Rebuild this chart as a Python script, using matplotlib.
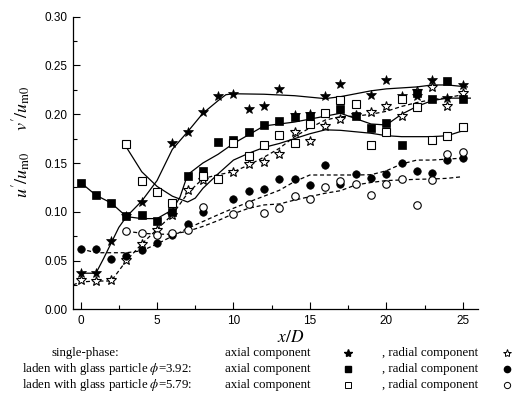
import matplotlib
matplotlib.use("Agg")
import matplotlib.pyplot as plt
from matplotlib.ticker import MultipleLocator

plt.rcParams['font.family'] = ['Liberation Sans', 'DejaVu Sans']
plt.rcParams['mathtext.fontset'] = 'stix'

# ---------------- data ----------------
# single-phase, axial component (filled star)
sp_ax_x = [0, 1, 2, 3, 4, 6, 7, 8, 9, 10, 11, 12, 13, 14, 15, 16, 17, 19, 20, 21, 22, 23, 24, 25]
sp_ax_y = [0.037, 0.037, 0.070, 0.096, 0.110, 0.171, 0.182, 0.202, 0.219, 0.221, 0.205, 0.208,
           0.226, 0.199, 0.200, 0.219, 0.231, 0.220, 0.235, 0.219, 0.219, 0.235, 0.217, 0.230]
# single-phase, radial component (open star)
sp_ra_x = [0, 1, 2, 3, 4, 5, 6, 7, 8, 10, 11, 12, 13, 14, 15, 16, 17, 18, 19, 20, 21, 22, 23, 24, 25]
sp_ra_y = [0.030, 0.029, 0.030, 0.051, 0.067, 0.081, 0.097, 0.122, 0.133, 0.141, 0.149, 0.151, 0.159,
           0.182, 0.173, 0.188, 0.195, 0.199, 0.202, 0.208, 0.198, 0.224, 0.228, 0.208, 0.222]
# phi=3.92, axial (filled square)
g1_ax_x = [0, 1, 2, 3, 4, 5, 6, 7, 8, 9, 10, 11, 12, 13, 14, 15, 17, 18, 19, 20, 21, 22, 23, 24, 25]
g1_ax_y = [0.130, 0.117, 0.109, 0.096, 0.097, 0.091, 0.100, 0.137, 0.142, 0.172, 0.174, 0.182, 0.189,
           0.193, 0.197, 0.198, 0.205, 0.198, 0.186, 0.191, 0.168, 0.222, 0.216, 0.234, 0.216]
# phi=3.92, radial (filled circle)
g1_ra_x = [0, 1, 2, 3, 4, 5, 6, 7, 8, 10, 11, 12, 13, 14, 15, 16, 17, 18, 19, 20, 21, 22, 23, 24, 25]
g1_ra_y = [0.062, 0.062, 0.052, 0.055, 0.061, 0.068, 0.076, 0.087, 0.100, 0.113, 0.121, 0.123, 0.134,
           0.134, 0.127, 0.148, 0.128, 0.139, 0.135, 0.139, 0.150, 0.142, 0.140, 0.153, 0.155]
# phi=5.79, axial (open square)
g2_ax_x = [3, 4, 5, 6, 8, 9, 10, 11, 12, 13, 14, 15, 16, 17, 18, 19, 20, 21, 22, 23, 24, 25]
g2_ax_y = [0.169, 0.132, 0.120, 0.109, 0.137, 0.134, 0.170, 0.157, 0.168, 0.179, 0.170, 0.190, 0.201,
           0.215, 0.210, 0.168, 0.182, 0.216, 0.207, 0.174, 0.178, 0.187]
# phi=5.79, radial (open circle)
g2_ra_x = [3, 4, 5, 6, 7, 8, 10, 11, 12, 13, 14, 15, 16, 17, 18, 19, 20, 21, 22, 23, 24, 25]
g2_ra_y = [0.080, 0.078, 0.076, 0.078, 0.081, 0.105, 0.098, 0.108, 0.099, 0.104, 0.116, 0.113, 0.125,
           0.132, 0.128, 0.117, 0.128, 0.134, 0.107, 0.133, 0.159, 0.161]

# fitted curves
fit_sp_ax_x = [0, 1, 1.5, 2, 2.5, 3, 4, 5, 6, 7, 8, 9, 9.5, 10, 12, 14, 16, 17, 18, 19, 20, 21, 22, 23, 24, 25.3]
fit_sp_ax_y = [0.037, 0.037, 0.052, 0.068, 0.084, 0.095, 0.111, 0.132, 0.164, 0.182, 0.201, 0.214, 0.220,
               0.221, 0.2205, 0.219, 0.216, 0.218, 0.221, 0.224, 0.226, 0.227, 0.228, 0.230, 0.230, 0.228]
fit_g1_ax_x = [0, 1, 2, 3, 4, 5, 6, 6.5, 7, 8, 9, 10, 11, 12, 13, 14, 15, 16, 17, 18, 19, 20, 21, 22, 23, 24, 25, 25.5]
fit_g1_ax_y = [0.130, 0.117, 0.109, 0.095, 0.093, 0.093, 0.102, 0.115, 0.138, 0.150, 0.159, 0.170, 0.179,
               0.188, 0.190, 0.192, 0.195, 0.198, 0.201, 0.1955, 0.190, 0.189, 0.200, 0.208, 0.214, 0.2165,
               0.2165, 0.2165]
fit_g2_ax_x = [3, 4, 5, 6, 7, 7.5, 8, 9, 10, 11, 12, 13, 14, 15, 16, 17, 18, 19, 20, 21, 22, 23, 24, 25, 25.3]
fit_g2_ax_y = [0.166, 0.141, 0.126, 0.116, 0.110, 0.114, 0.124, 0.139, 0.153, 0.160, 0.166, 0.170, 0.175,
               0.180, 0.184, 0.1835, 0.182, 0.1805, 0.178, 0.177, 0.177, 0.177, 0.178, 0.183, 0.186]
fit_sp_ra_x = [-0.5, 0, 1, 2, 3, 4, 5, 6, 7, 8, 9, 10, 11, 12, 13, 14, 15, 16, 17, 18, 19, 20, 21, 22, 23, 24, 25]
fit_sp_ra_y = [0.025, 0.028, 0.029, 0.029, 0.050, 0.067, 0.082, 0.097, 0.119, 0.134, 0.138, 0.141, 0.148,
               0.156, 0.165, 0.177, 0.186, 0.194, 0.1975, 0.198, 0.200, 0.203, 0.208, 0.212, 0.215, 0.217, 0.220]
fit_g1_ra_x = [0, 1, 2, 3, 4, 5, 6, 7, 8, 9, 10, 11, 12, 13, 14, 15, 16, 17, 18, 19, 20, 21, 22, 23, 24, 25]
fit_g1_ra_y = [0.062, 0.058, 0.058, 0.058, 0.060, 0.067, 0.075, 0.083, 0.090, 0.097, 0.1036, 0.110, 0.116,
               0.122, 0.131, 0.1377, 0.1377, 0.1377, 0.1377, 0.138, 0.142, 0.149, 0.153, 0.153, 0.154, 0.155]
fit_g2_ra_x = [3, 4, 5, 6, 7, 8, 9, 10, 11, 12, 13, 14, 15, 16, 17, 18, 19, 20, 21, 22, 23, 24, 25]
fit_g2_ra_y = [0.080, 0.078, 0.077, 0.077, 0.080, 0.085, 0.091, 0.098, 0.1036, 0.107, 0.108, 0.112, 0.1155,
               0.119, 0.1216, 0.1275, 0.130, 0.132, 0.1326, 0.1333, 0.1336, 0.1343, 0.136]

x_ticks = [0, 5, 10, 15, 20, 25]
y_ticks = [0.00, 0.05, 0.10, 0.15, 0.20, 0.25, 0.30]

# ---------------- figure ----------------
W, H = 529, 412
fig = plt.figure(figsize=(W / 100, H / 100), dpi=100)
ax = fig.add_axes([73 / W, 1 - 309.3 / H, (478 - 73) / W, (309.3 - 16.7) / H])

lw = 0.9
dash = (0, (3.2, 2.2))
ax.plot(fit_sp_ax_x, fit_sp_ax_y, color='black', lw=lw, zorder=2)
ax.plot(fit_g1_ax_x, fit_g1_ax_y, color='black', lw=lw, zorder=2)
ax.plot(fit_g2_ax_x, fit_g2_ax_y, color='black', lw=lw, zorder=2)
ax.plot(fit_sp_ra_x, fit_sp_ra_y, color='black', lw=lw, ls=dash, zorder=2)
ax.plot(fit_g1_ra_x, fit_g1_ra_y, color='black', lw=lw, ls=dash, zorder=2)
ax.plot(fit_g2_ra_x, fit_g2_ra_y, color='black', lw=lw, ls=dash, zorder=2)

mew = 0.8
ax.plot(sp_ax_x, sp_ax_y, ls='none', marker='*', ms=7.5, mfc='black', mec='black', mew=0.5, zorder=3)
ax.plot(sp_ra_x, sp_ra_y, ls='none', marker='*', ms=7.5, mfc='white', mec='black', mew=mew, zorder=3)
ax.plot(g1_ax_x, g1_ax_y, ls='none', marker='s', ms=5.2, mfc='black', mec='black', mew=0.5, zorder=4)
ax.plot(g1_ra_x, g1_ra_y, ls='none', marker='o', ms=5.4, mfc='black', mec='black', mew=0.5, zorder=4)
ax.plot(g2_ax_x, g2_ax_y, ls='none', marker='s', ms=5.2, mfc='white', mec='black', mew=mew, zorder=4)
ax.plot(g2_ra_x, g2_ra_y, ls='none', marker='o', ms=5.4, mfc='white', mec='black', mew=mew, zorder=4)

ax.set_xlim(-0.5, 26)
ax.set_ylim(0, 0.30)
ax.set_xticks(x_ticks)
ax.set_yticks(y_ticks)
ax.set_yticklabels([f"{v:.2f}" for v in y_ticks])
ax.xaxis.set_minor_locator(MultipleLocator(2.5))
ax.yaxis.set_minor_locator(MultipleLocator(0.025))
ax.tick_params(which='both', direction='in', labelsize=8.5, width=0.8)
ax.tick_params(which='major', length=5)
ax.tick_params(which='minor', length=3)
ax.tick_params(axis='x', pad=4)
ax.tick_params(axis='y', pad=4)
for s in ['top', 'right']:
    ax.spines[s].set_visible(False)
for s in ['left', 'bottom']:
    ax.spines[s].set_linewidth(0.9)

def fx(px):
    return px / W

def fy(py):
    return 1 - py / H

serif = ['Liberation Serif', 'DejaVu Serif']
fig.text(fx(291), fy(337), r"$x/D$", fontsize=12.5, ha='center', va='center')
fig.text(fx(22), fy(142), r"$u'/u_{\rm m0}$" + r"$\quad\ \ $" + r"$v'/u_{\rm m0}$",
         fontsize=13, rotation=90, ha='center', va='center')

rows_y = [353, 369, 385]
row_labels = ["single-phase:",
              r"laden with glass particle $\phi$=3.92:",
              r"laden with glass particle $\phi$=5.79:"]
row_x = [52, 22, 22]
fs_leg = 9.3
for yy, lab, xx in zip(rows_y, row_labels, row_x):
    fig.text(fx(xx), fy(yy), lab, fontsize=fs_leg, family=serif, ha='left', va='center')
    fig.text(fx(225), fy(yy), "axial component", fontsize=fs_leg, family=serif, ha='left', va='center')
    fig.text(fx(382), fy(yy), ", radial component", fontsize=fs_leg, family=serif, ha='left', va='center')

leg = fig.add_axes([0, 0, 1, 1], zorder=5)
leg.set_xlim(0, W)
leg.set_ylim(H, 0)
leg.axis('off')
leg.patch.set_alpha(0)
leg.plot([348], [rows_y[0]], marker='*', ms=6, mfc='black', mec='black', ls='none')
leg.plot([507], [rows_y[0]], marker='*', ms=6, mfc='white', mec='black', mew=0.7, ls='none')
leg.plot([348], [rows_y[1]], marker='s', ms=4.2, mfc='black', mec='black', ls='none')
leg.plot([507], [rows_y[1]], marker='o', ms=4.5, mfc='black', mec='black', ls='none')
leg.plot([348], [rows_y[2]], marker='s', ms=4.2, mfc='white', mec='black', mew=0.7, ls='none')
leg.plot([507], [rows_y[2]], marker='o', ms=4.5, mfc='white', mec='black', mew=0.7, ls='none')

fig.savefig("out.png", dpi=100)
